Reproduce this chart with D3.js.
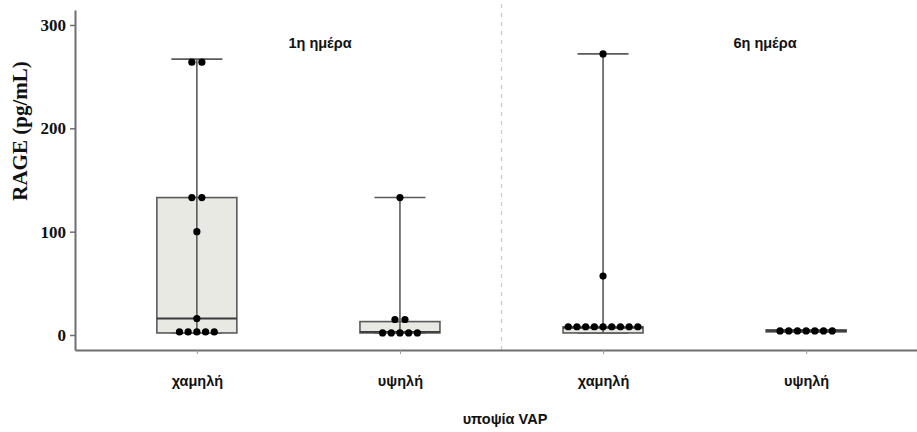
<!DOCTYPE html>
<html>
<head>
<meta charset="utf-8">
<script src="https://cdn.jsdelivr.net/npm/d3@7"></script>
<style>
  body { margin: 0; background: #fff; }
  svg { display: block; }
</style>
</head>
<body>
<svg id="svg_rageBox" width="917" height="432"></svg>
<script>
// RAGE per VAP suspicion, day 1 vs day 6

// groups along the x axis
const groups = ['d1_low', 'd1_high', 'd6_low', 'd6_high'];
const groupLabels = ['χαμηλή', 'υψηλή', 'χαμηλή', 'υψηλή'];
const panelLabels = ['1η ημέρα', '6η ημέρα'];

// box stats (pg/mL)
const whiskerLow = [2, 2, 2, 3];
const q1 = [2, 2, 2, 3];
const median = [16, 3, 7, 4];
const q3 = [133, 13, 8, 5];
const whiskerHigh = [267, 133, 272, 5];

// individual points
const pointsD1Low = [264, 264, 133, 133, 100, 16, 3, 3, 3, 3, 3];
const pointsD1High = [133, 15, 15, 2, 2, 2, 2, 2];
const pointsD6Low = [272, 57, 8, 8, 8, 8, 8, 8, 8, 8, 8];
const pointsD6High = [4, 4, 4, 4, 4, 4, 4];
const allPoints = [pointsD1Low, pointsD1High, pointsD6Low, pointsD6High];

const yTicks = [0, 100, 200, 300];

const svg = d3.select('#svg_rageBox');
const axisColor = '#6e6e6e';

// Scales
const xScale = d3.scalePoint()
    .domain(groups)
    .range([75, 928])
    .padding(0.6);

const yScale = d3.scaleLinear()
    .domain([-14.5, 314.5])
    .range([350, 10]);

const boxWidth = 80;
const capWidth = 51;

// dashed separator between the two days
const sepX = (xScale(groups[1]) + xScale(groups[2])) / 2;
svg.append('line')
    .attr('x1', sepX).attr('x2', sepX)
    .attr('y1', 4).attr('y2', 350)
    .attr('stroke', '#c8c8c8')
    .attr('stroke-width', 1.2)
    .attr('stroke-dasharray', '4,5');

// panel labels
svg.selectAll('.panelLabel')
    .data(panelLabels)
    .join('text')
    .attr('class', 'panelLabel')
    .attr('x', (d, i) => i === 0 ? 320 : 765)
    .attr('y', 48)
    .attr('text-anchor', 'middle')
    .attr('font-family', 'Liberation Sans, Arial, sans-serif')
    .attr('font-weight', 'bold')
    .attr('font-size', 14.5)
    .attr('fill', '#111')
    .text(d => d);

// Boxes
const boxes = groups.map((g, i) => ({
    g: g, lo: whiskerLow[i], q1: q1[i], med: median[i], q3: q3[i], hi: whiskerHigh[i]
}));

const boxG = svg.append('g');

// whisker line
boxG.selectAll('.whisker')
    .data(boxes)
    .join('line')
    .attr('x1', d => xScale(d.g)).attr('x2', d => xScale(d.g))
    .attr('y1', d => yScale(d.lo)).attr('y2', d => yScale(d.hi))
    .attr('stroke', '#5a5a5a')
    .attr('stroke-width', 1.6);

// caps
boxG.selectAll('.capHi')
    .data(boxes)
    .join('line')
    .attr('x1', d => xScale(d.g) - capWidth / 2).attr('x2', d => xScale(d.g) + capWidth / 2)
    .attr('y1', d => yScale(d.hi)).attr('y2', d => yScale(d.hi))
    .attr('stroke', '#5a5a5a')
    .attr('stroke-width', 1.6);

boxG.selectAll('.capLo')
    .data(boxes)
    .join('line')
    .attr('x1', d => xScale(d.g) - capWidth / 2).attr('x2', d => xScale(d.g) + capWidth / 2)
    .attr('y1', d => yScale(d.lo)).attr('y2', d => yScale(d.lo))
    .attr('stroke', '#5a5a5a')
    .attr('stroke-width', 1.6);

// box rect
boxG.selectAll('.box')
    .data(boxes)
    .join('rect')
    .attr('x', d => xScale(d.g) - boxWidth / 2)
    .attr('width', boxWidth)
    .attr('y', d => yScale(d.q3))
    .attr('height', d => Math.max(1, yScale(d.q1) - yScale(d.q3)))
    .attr('fill', '#e9e9e4')
    .attr('stroke', '#5a5a5a')
    .attr('stroke-width', 1.6);

// whisker over box again (inside)
boxG.selectAll('.whiskerIn')
    .data(boxes)
    .join('line')
    .attr('x1', d => xScale(d.g)).attr('x2', d => xScale(d.g))
    .attr('y1', d => yScale(d.q1)).attr('y2', d => yScale(d.q3))
    .attr('stroke', '#5a5a5a')
    .attr('stroke-width', 1.6);

// median
boxG.selectAll('.median')
    .data(boxes)
    .join('line')
    .attr('x1', d => xScale(d.g) - boxWidth / 2).attr('x2', d => xScale(d.g) + boxWidth / 2)
    .attr('y1', d => yScale(d.med)).attr('y2', d => yScale(d.med))
    .attr('stroke', '#3a3a3a')
    .attr('stroke-width', 1.8);

// Dots, spread sideways when values tie (dot-plot style)
const spacing = 8.7;
const dots = [];
groups.forEach((g, i) => {
    const byVal = d3.group(allPoints[i], v => v);
    byVal.forEach((vals, v) => {
        const n = vals.length;
        vals.forEach((_, k) => {
            dots.push({ g: g, v: v, off: (k - (n - 1) / 2) * (n === 2 ? 10 : spacing) });
        });
    });
});

svg.append('g').selectAll('circle')
    .data(dots)
    .join('circle')
    .attr('cx', d => xScale(d.g) + d.off)
    .attr('cy', d => yScale(d.v))
    .attr('r', 3.6)
    .attr('fill', '#000');

// Axes
const yAxis = d3.axisLeft(yScale)
    .tickValues(yTicks)
    .tickSize(5)
    .tickSizeOuter(0)
    .tickPadding(4);

const yG = svg.append('g')
    .attr('transform', 'translate(75,0)')
    .call(yAxis);
yG.select('.domain').attr('stroke', axisColor).attr('stroke-width', 2);
yG.selectAll('.tick line').attr('stroke', axisColor).attr('stroke-width', 1.5);
yG.selectAll('.tick text')
    .attr('font-family', 'Liberation Serif, Times New Roman, serif')
    .attr('font-weight', 'bold')
    .attr('font-size', 17)
    .attr('fill', '#111');

const xAxis = d3.axisBottom(xScale)
    .tickSize(4)
    .tickSizeOuter(0)
    .tickFormat((d, i) => groupLabels[i]);

const xG = svg.append('g')
    .attr('transform', 'translate(0,350)')
    .call(xAxis);
xG.select('.domain').attr('stroke', axisColor).attr('stroke-width', 2);
xG.selectAll('.tick line').attr('stroke', '#999').attr('stroke-width', 1);
xG.selectAll('.tick text')
    .attr('y', 36)
    .attr('dy', 0)
    .attr('font-family', 'Liberation Sans, Arial, sans-serif')
    .attr('font-weight', 'bold')
    .attr('font-size', 14.5)
    .attr('fill', '#111');

// axis titles
svg.append('text')
    .attr('transform', 'translate(27,131) rotate(-90)')
    .attr('text-anchor', 'middle')
    .attr('font-family', 'Liberation Serif, Times New Roman, serif')
    .attr('font-weight', 'bold')
    .attr('font-size', 21)
    .attr('fill', '#111')
    .text('RAGE (pg/mL)');

svg.append('text')
    .attr('x', 505)
    .attr('y', 424)
    .attr('text-anchor', 'middle')
    .attr('font-family', 'Liberation Sans, Arial, sans-serif')
    .attr('font-weight', 'bold')
    .attr('font-size', 14.5)
    .attr('fill', '#111')
    .text('υποψία VAP');
</script>
</body>
</html>
